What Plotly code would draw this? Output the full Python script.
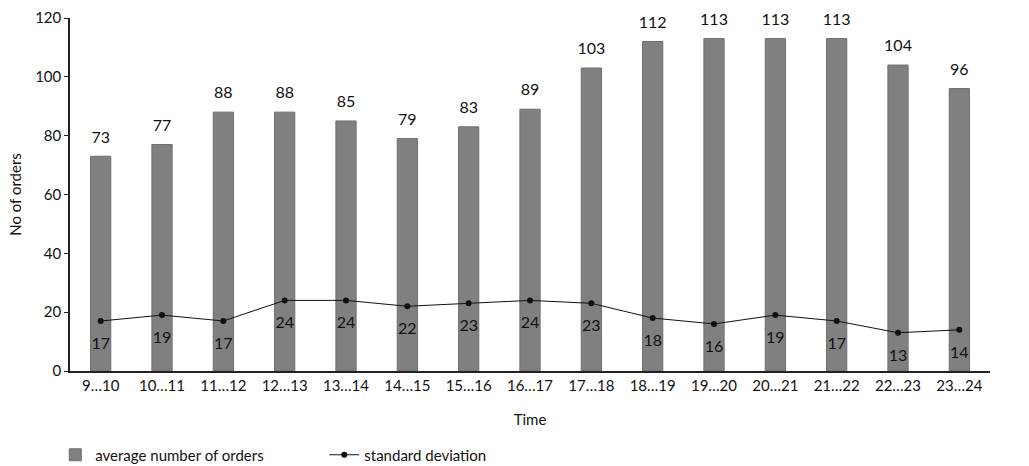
import plotly.graph_objects as go

categories = ["9…10", "10…11", "11…12", "12…13", "13…14", "14…15", "15…16", "16…17",
              "17…18", "18…19", "19…20", "20…21", "21…22", "22…23", "23…24"]
avg_orders = [73, 77, 88, 88, 85, 79, 83, 89, 103, 112, 113, 113, 113, 104, 96]
std_dev = [17, 19, 17, 24, 24, 22, 23, 24, 23, 18, 16, 19, 17, 13, 14]
y_ticks = [0, 20, 40, 60, 80, 100, 120]

FONT = "Lato"

fig = go.Figure()
fig.add_trace(go.Bar(
    x=categories, y=avg_orders, name="average number of orders",
    marker=dict(color="#808080", line=dict(color="#6e6e6e", width=1)),
    width=0.33,
))
fig.add_trace(go.Scatter(
    x=categories, y=std_dev, name="standard deviation",
    mode="lines+markers",
    line=dict(color="#111111", width=1),
    marker=dict(color="#111111", size=6),
))
# value labels (invisible markers enlarge the text offset)
fig.add_trace(go.Scatter(
    x=categories, y=avg_orders, mode="text+markers", showlegend=False,
    marker=dict(size=14, opacity=0),
    text=[str(v) for v in avg_orders], textposition="top center",
    textfont=dict(family=FONT, size=16, color="#111111"),
    cliponaxis=False, hoverinfo="skip",
))
fig.add_trace(go.Scatter(
    x=categories, y=std_dev, mode="text+markers", showlegend=False,
    marker=dict(size=24, opacity=0),
    text=[str(v) for v in std_dev], textposition="bottom center",
    textfont=dict(family=FONT, size=16, color="#111111"),
    cliponaxis=False, hoverinfo="skip",
))

fig.update_layout(
    width=1029, height=466,
    margin=dict(l=70, r=39, t=18, b=95, autoexpand=False),
    plot_bgcolor="white", paper_bgcolor="white",
    font=dict(family=FONT, size=15, color="#111111"),
    showlegend=True,
    legend=dict(orientation="h", x=-0.016, y=-0.238, xanchor="left", yanchor="middle",
                font=dict(family=FONT, size=15), tracegroupgap=0,
                entrywidth=224, entrywidthmode="pixels"),
    xaxis=dict(
        title=dict(text="Time", font=dict(family=FONT, size=15), standoff=22),
        showline=True, linecolor="#222222", linewidth=1.5,
        ticks="", showgrid=False, tickfont=dict(family=FONT, size=15),
        range=[-0.5, 14.5],
    ),
    yaxis=dict(
        title=dict(text="No of orders", font=dict(family=FONT, size=15), standoff=10),
        range=[0, 120], tickvals=y_ticks,
        showline=True, linecolor="#222222", linewidth=1.5,
        ticks="outside", ticklen=4, tickcolor="#222222",
        showgrid=False, zeroline=False, tickfont=dict(family=FONT, size=15),
    ),
)

fig.write_html("out.html", config={"displayModeBar": False})

# remove default page margin so the figure fills the window exactly
with open("out.html", encoding="utf-8") as f:
    html = f.read()
html = html.replace("<body>", '<body style="margin:0;padding:0;overflow:hidden">', 1)
with open("out.html", "w", encoding="utf-8") as f:
    f.write(html)
